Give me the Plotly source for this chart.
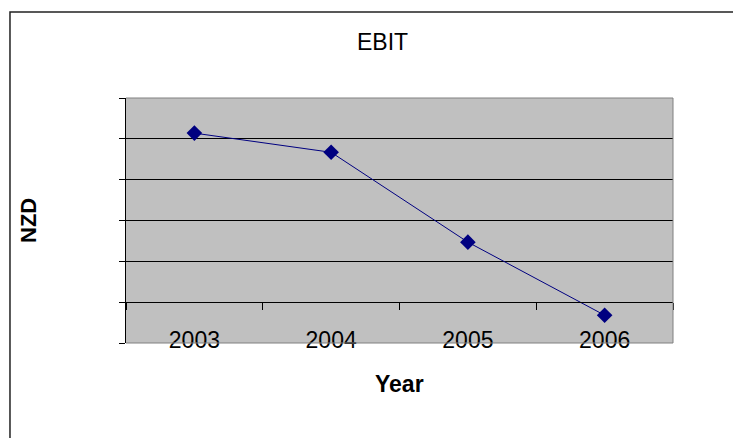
import plotly.graph_objects as go

years = ["2003", "2004", "2005", "2006"]
ebit = [4.14, 3.67, 1.47, -0.32]
y_ticks = [-1, 0, 1, 2, 3, 4, 5]

FONT = "Liberation Sans, Arial, sans-serif"
NAVY = "#000080"

fig = go.Figure()
fig.add_trace(go.Scatter(
    x=years, y=ebit, mode="lines+markers",
    line=dict(color=NAVY, width=1),
    marker=dict(symbol="diamond", size=12, color=NAVY),
    showlegend=False, hoverinfo="skip",
))
# invisible trace to carry the label axis
fig.add_trace(go.Scatter(
    x=years, y=[None] * len(years), xaxis="x2", mode="markers",
    showlegend=False, hoverinfo="skip",
))

fig.update_layout(
    width=725, height=430,
    margin=dict(l=118, r=60, t=90, b=95),
    paper_bgcolor="white",
    plot_bgcolor="#C0C0C0",
    font=dict(family=FONT, color="black"),
    title=dict(text="EBIT", x=0.5166, xref="container", xanchor="center",
               y=0.9221, yref="container", yanchor="middle",
               font=dict(family=FONT, size=23, color="black")),
    xaxis=dict(
        type="category", categoryorder="array", categoryarray=years,
        range=[-0.5, 3.5], tickson="boundaries",
        ticks="outside", ticklen=7, tickcolor="black", tickwidth=1,
        showticklabels=False, showgrid=False, zeroline=False,
        showline=True, linecolor="black", linewidth=1,
        anchor="free", position=1 / 6,
    ),
    xaxis2=dict(
        type="category", categoryorder="array", categoryarray=years,
        range=[-0.5, 3.5], overlaying="x", side="bottom", anchor="y",
        ticks="", showline=False, showgrid=False, zeroline=False,
        tickfont=dict(family=FONT, size=23, color="black"),
        ticklabelstandoff=-19,
    ),
    yaxis=dict(
        range=[-1, 5], tickvals=y_ticks, showticklabels=False,
        ticks="outside", ticklen=6, tickcolor="black", tickwidth=1,
        showgrid=True, gridcolor="black", gridwidth=1,
        zeroline=False, showline=True, linecolor="black", linewidth=1,
    ),
    shapes=[
        dict(type="path", xref="paper", yref="paper",
             path="M 0,1 L 1,1 L 1,0 L 0,0",
             line=dict(color="#808080", width=1), layer="above"),
        dict(type="path", xref="paper", yref="paper",
             path="M -0.2121,-0.6 L -0.2121,1.351 L 1.3,1.351",
             fillcolor="rgba(0,0,0,0)",
             line=dict(color="#222222", width=1.5), layer="below"),
    ],
    annotations=[
        dict(text="<b>Year</b>", xref="paper", yref="paper", x=0.5, y=-0.167,
             xanchor="center", yanchor="middle", showarrow=False,
             font=dict(family=FONT, size=23, color="black")),
        dict(text="<b>NZD</b>", xref="paper", yref="paper", x=-0.1773, y=0.498,
             xanchor="center", yanchor="middle", showarrow=False, textangle=-90,
             font=dict(family=FONT, size=22, color="black")),
    ],
)

fig.write_html("out.html")
